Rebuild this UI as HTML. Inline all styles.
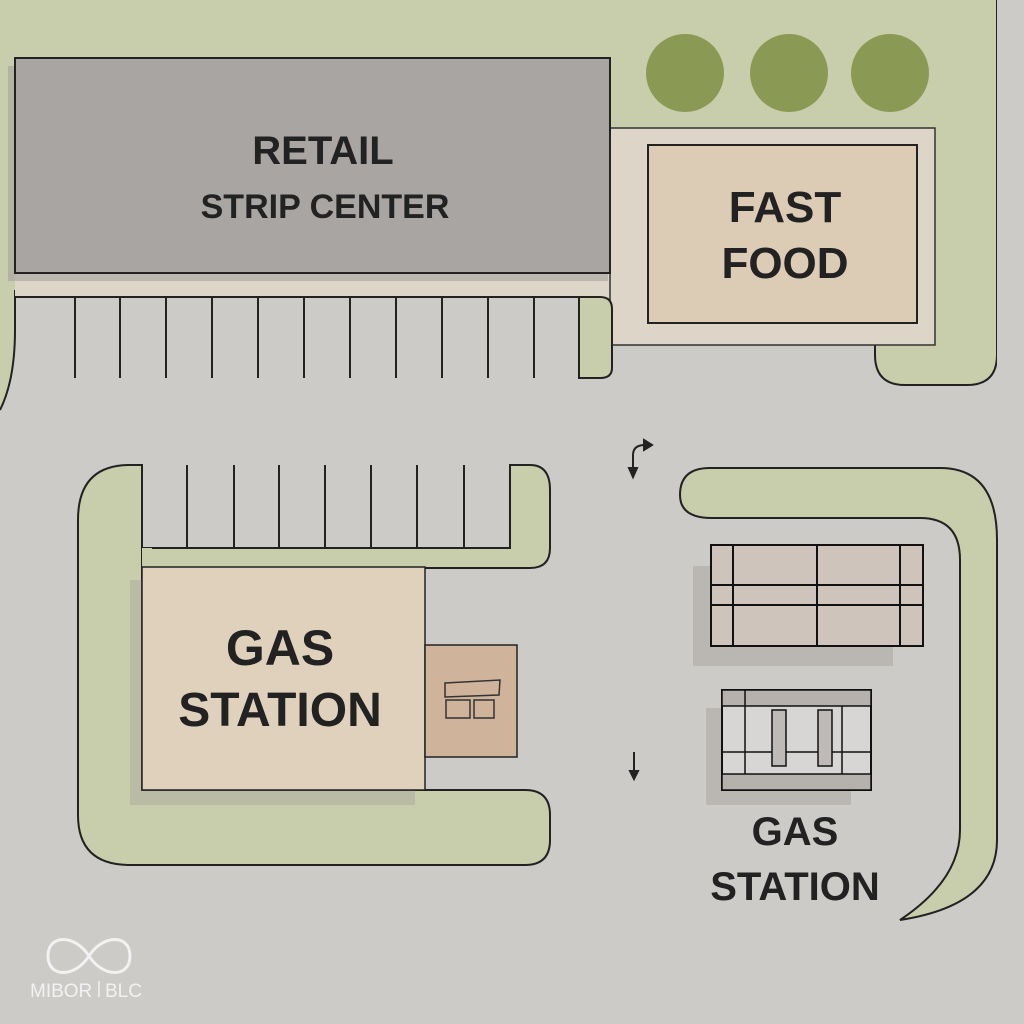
<!DOCTYPE html>
<html><head><style>
html,body{margin:0;padding:0;background:#cdcbc8;}
svg{display:block}
text{font-family:"Liberation Sans",sans-serif;font-weight:bold;fill:#222;}
</style></head><body>
<svg width="1024" height="1024" viewBox="0 0 1024 1024" xmlns="http://www.w3.org/2000/svg">
<rect width="1024" height="1024" fill="#cdcbc8"/>
<path d="M0 0 H997 V355 Q997 385 967 385 H905 Q875 385 875 355 V345 H935 V128 H610 V295 H0 Z" fill="#c8ceab"/>
<path d="M997 0 V355 Q997 385 967 385 H905 Q875 385 875 355 V345" fill="none" stroke="#222" stroke-width="2"/>
<rect x="997" y="0" width="27" height="400" fill="#cdcbc8"/>
<path d="M0 58 H15 V330 Q15 380 0 410 Z" fill="#c8ceab"/>
<path d="M15 290 V330 Q15 380 0 410" fill="none" stroke="#222" stroke-width="2"/>
<rect x="15" y="273" width="595" height="25" fill="#dcd5c8"/>
<rect x="610" y="128" width="325" height="217" fill="#dcd5c8" stroke="#333" stroke-width="1.5"/>
<rect x="8" y="66" width="600" height="215" fill="#9c9895" opacity="0.5"/>
<rect x="15" y="58" width="595" height="215" fill="#a9a5a2" stroke="#222" stroke-width="2"/>
<text x="323" y="164" font-size="40" text-anchor="middle">RETAIL</text>
<text x="325" y="218" font-size="34" text-anchor="middle">STRIP CENTER</text>
<rect x="648" y="145" width="269" height="178" fill="#dccbb5" stroke="#222" stroke-width="2"/>
<text x="785" y="222" font-size="44" text-anchor="middle">FAST</text>
<text x="785" y="278" font-size="44" text-anchor="middle">FOOD</text>
<g fill="#8a9a55"><circle cx="685" cy="73" r="39"/><circle cx="789" cy="73" r="39"/><circle cx="890" cy="73" r="39"/></g>
<line x1="15" y1="297" x2="580" y2="297" stroke="#222" stroke-width="2"/>
<g stroke="#222" stroke-width="2">
<line x1="75" y1="298" x2="75" y2="378"/><line x1="120" y1="298" x2="120" y2="378"/><line x1="166" y1="298" x2="166" y2="378"/><line x1="212" y1="298" x2="212" y2="378"/><line x1="258" y1="298" x2="258" y2="378"/><line x1="304" y1="298" x2="304" y2="378"/><line x1="350" y1="298" x2="350" y2="378"/><line x1="396" y1="298" x2="396" y2="378"/><line x1="442" y1="298" x2="442" y2="378"/><line x1="488" y1="298" x2="488" y2="378"/><line x1="534" y1="298" x2="534" y2="378"/>
</g>
<path d="M579 297 H600 Q612 297 612 309 V368 Q612 378 600 378 H579 Z" fill="#c8ceab" stroke="#222" stroke-width="2"/>
<path d="M142 465 H130 Q78 465 78 520 V815 Q78 865 130 865 H525 Q550 865 550 840 V815 Q550 790 525 790 H142 Z" fill="#c8ceab" stroke="#222" stroke-width="2"/>
<path d="M142 465 V548 H510 V465 H530 Q550 465 550 490 V548 Q550 568 530 568 H142 Z" fill="#c8ceab" stroke="#222" stroke-width="2"/>
<rect x="142" y="548" width="10" height="20" fill="#c8ceab"/>
<g stroke="#222" stroke-width="2">
<line x1="187" y1="465" x2="187" y2="548"/><line x1="234" y1="465" x2="234" y2="548"/><line x1="279" y1="465" x2="279" y2="548"/><line x1="325" y1="465" x2="325" y2="548"/><line x1="371" y1="465" x2="371" y2="548"/><line x1="417" y1="465" x2="417" y2="548"/><line x1="464" y1="465" x2="464" y2="548"/>
</g>
<rect x="130" y="580" width="285" height="225" fill="#a9a49c" opacity="0.45"/>
<rect x="142" y="567" width="283" height="223" fill="#e0d1bd" stroke="#222" stroke-width="1.5"/>
<rect x="425" y="645" width="92" height="112" fill="#cfb39b" stroke="#222" stroke-width="1.5"/>
<path d="M445 683 L500 680 L499 695 L445 697 Z" fill="none" stroke="#333" stroke-width="1.5"/>
<rect x="446" y="700" width="24" height="18" fill="none" stroke="#333" stroke-width="1.5"/>
<rect x="474" y="700" width="20" height="18" fill="none" stroke="#333" stroke-width="1.5"/>
<text x="280" y="665" font-size="50" text-anchor="middle">GAS</text>
<text x="280" y="726" font-size="48" text-anchor="middle">STATION</text>
<path d="M710 468 H940 Q997 468 997 540 V840 Q997 905 900 920 Q960 880 960 830 V560 Q960 518 920 518 H712 Q680 518 680 495 Q680 468 710 468 Z" fill="#c8ceab" stroke="#222" stroke-width="2"/>
<rect x="693" y="566" width="200" height="100" fill="#a8a39c" opacity="0.5"/>
<rect x="711" y="545" width="212" height="101" fill="#cfc4bb" stroke="#111" stroke-width="2"/>
<g stroke="#111" stroke-width="2">
<line x1="733" y1="545" x2="733" y2="646"/><line x1="817" y1="545" x2="817" y2="646"/><line x1="900" y1="545" x2="900" y2="646"/>
<line x1="711" y1="585" x2="923" y2="585"/><line x1="711" y1="605" x2="923" y2="605"/>
</g>
<rect x="706" y="708" width="145" height="97" fill="#a8a39c" opacity="0.5"/>
<rect x="722" y="690" width="149" height="100" fill="#d8d6d4" stroke="#111" stroke-width="2"/>
<rect x="722" y="690" width="149" height="16" fill="#b5b1ad" stroke="#111" stroke-width="1.5"/>
<rect x="722" y="774" width="149" height="16" fill="#b5b1ad" stroke="#111" stroke-width="1.5"/>
<g stroke="#111" stroke-width="1.5" fill="none">
<line x1="745" y1="690" x2="745" y2="774"/><line x1="842" y1="706" x2="842" y2="774"/><line x1="722" y1="752" x2="871" y2="752"/>
<rect x="772" y="710" width="14" height="56" fill="#bdbab7"/><rect x="818" y="710" width="14" height="56" fill="#bdbab7"/>
</g>
<text x="795" y="845" font-size="40" text-anchor="middle">GAS</text>
<text x="795" y="900" font-size="40" text-anchor="middle">STATION</text>
<g stroke="#222" stroke-width="2" fill="#222">
<path d="M633 470 V455 Q633 445 645 445" fill="none"/><path d="M644 440 L652 445 L644 450 Z"/><path d="M629 468 L637 468 L633 477 Z"/>
<line x1="634" y1="752" x2="634" y2="772"/><path d="M630 771 L638 771 L634 779 Z"/>
</g>
<path d="M89 956 C75 934 48 934 48 956 C48 978 75 978 89 956 C103 934 130 934 130 956 C130 978 103 978 89 956" fill="none" stroke="#f2f2f2" stroke-width="3"/>
<text x="30" y="997" font-size="19" style="font-weight:normal;fill:#f2f2f2">MIBOR</text>
<line x1="99" y1="981" x2="99" y2="997" stroke="#f2f2f2" stroke-width="1.5"/>
<text x="105" y="997" font-size="19" style="font-weight:normal;fill:#f2f2f2">BLC</text>
</svg>
</body></html>
